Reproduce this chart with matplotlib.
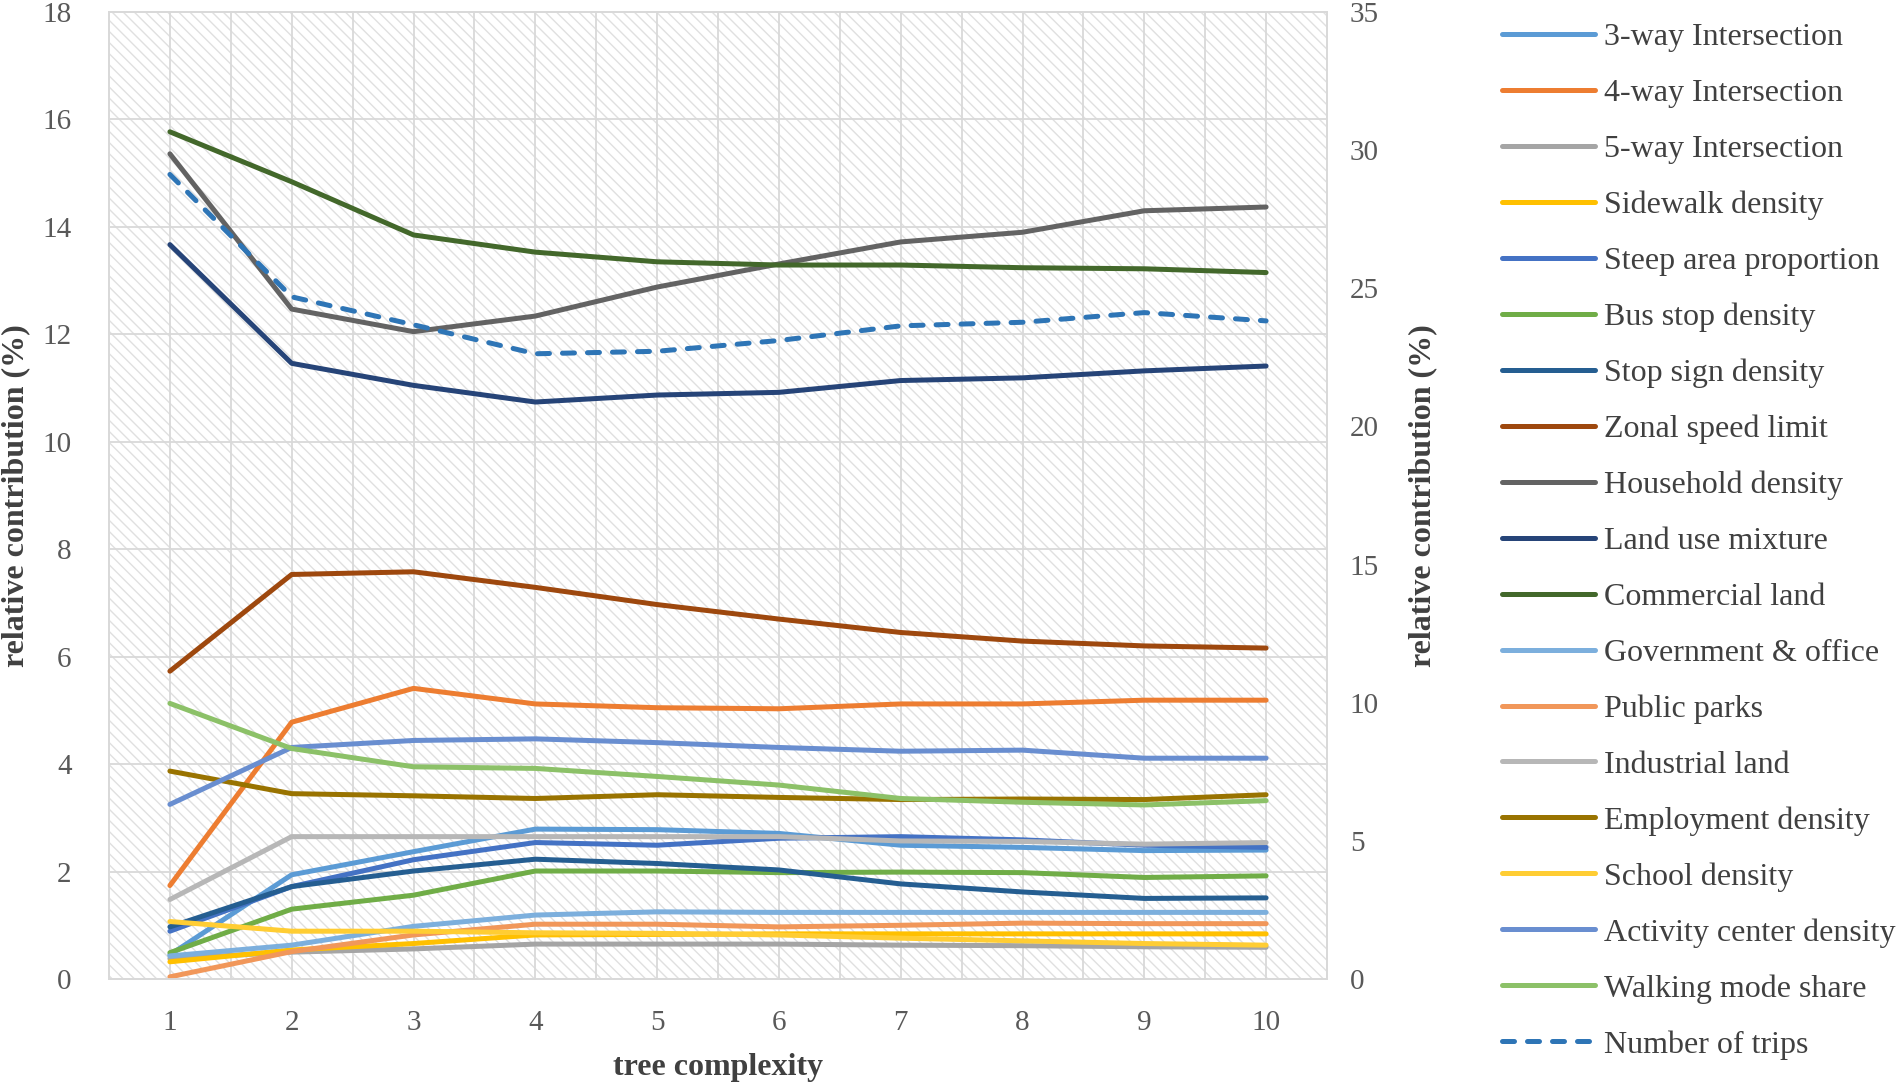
import matplotlib
matplotlib.use("Agg")
import matplotlib.pyplot as plt
from matplotlib.patches import Rectangle
from matplotlib.ticker import MultipleLocator

plt.rcParams['font.family'] = ['Liberation Serif', 'DejaVu Serif']
plt.rcParams['hatch.linewidth'] = 1.0

tree_complexity = [1, 2, 3, 4, 5, 6, 7, 8, 9, 10]

three_way = [0.45, 1.94, 2.37, 2.79, 2.78, 2.71, 2.49, 2.45, 2.39, 2.40]
four_way = [1.74, 4.78, 5.41, 5.12, 5.05, 5.03, 5.12, 5.12, 5.19, 5.19]
five_way = [0.38, 0.50, 0.56, 0.65, 0.65, 0.65, 0.63, 0.62, 0.60, 0.59]
sidewalk = [0.32, 0.54, 0.66, 0.82, 0.83, 0.84, 0.84, 0.84, 0.84, 0.84]
steep_area = [0.89, 1.72, 2.22, 2.54, 2.49, 2.62, 2.65, 2.59, 2.49, 2.45]
bus_stop = [0.49, 1.30, 1.56, 2.01, 2.01, 1.98, 1.99, 1.98, 1.89, 1.92]
stop_sign = [0.97, 1.72, 2.01, 2.23, 2.15, 2.03, 1.77, 1.62, 1.50, 1.51]
zonal_speed = [5.73, 7.53, 7.58, 7.29, 6.97, 6.70, 6.45, 6.29, 6.20, 6.16]
household = [15.36, 12.47, 12.05, 12.34, 12.88, 13.31, 13.72, 13.90, 14.30, 14.37]
land_use = [13.67, 11.46, 11.05, 10.74, 10.87, 10.92, 11.14, 11.19, 11.32, 11.41]
commercial = [15.77, 14.84, 13.85, 13.53, 13.35, 13.29, 13.29, 13.24, 13.22, 13.15]
government = [0.43, 0.63, 0.98, 1.19, 1.25, 1.24, 1.24, 1.24, 1.24, 1.24]
public_parks = [0.04, 0.51, 0.82, 1.02, 1.02, 0.97, 1.00, 1.04, 1.03, 1.03]
industrial = [1.48, 2.65, 2.65, 2.65, 2.65, 2.65, 2.57, 2.56, 2.51, 2.54]
employment = [3.87, 3.45, 3.41, 3.36, 3.43, 3.38, 3.34, 3.35, 3.34, 3.43]
school = [1.07, 0.89, 0.89, 0.86, 0.85, 0.82, 0.76, 0.71, 0.66, 0.63]
activity_center = [3.25, 4.31, 4.44, 4.47, 4.40, 4.31, 4.24, 4.26, 4.11, 4.11]
walking = [5.13, 4.29, 3.95, 3.92, 3.77, 3.61, 3.36, 3.29, 3.24, 3.32]
number_of_trips = [29.12, 24.69, 23.68, 22.63, 22.72, 23.11, 23.64, 23.77, 24.12, 23.82]  # secondary axis

series = [
    ("3-way Intersection", three_way, '#5B9BD5'),
    ("4-way Intersection", four_way, '#ED7D31'),
    ("5-way Intersection", five_way, '#A5A5A5'),
    ("Sidewalk density", sidewalk, '#FFC000'),
    ("Steep area proportion", steep_area, '#4472C4'),
    ("Bus stop density", bus_stop, '#70AD47'),
    ("Stop sign density", stop_sign, '#255E91'),
    ("Zonal speed limit", zonal_speed, '#9E480E'),
    ("Household density", household, '#636363'),
    ("Land use mixture", land_use, '#264478'),
    ("Commercial land", commercial, '#43682B'),
    ("Government & office", government, '#7CAFDD'),
    ("Public parks", public_parks, '#F1975A'),
    ("Industrial land", industrial, '#B7B7B7'),
    ("Employment density", employment, '#997300'),
    ("School density", school, '#FFCD33'),
    ("Activity center density", activity_center, '#698ED0'),
    ("Walking mode share", walking, '#8CC168'),
]
trips_label = "Number of trips"
trips_color = '#2E75B6'

W, H = 1900, 1083
fig = plt.figure(figsize=(W / 100, H / 100), dpi=100)
L, R, T, B = 109, 1327, 12, 979
ax = fig.add_axes([L / W, 1 - B / H, (R - L) / W, (B - T) / H])

grid_c = '#d9d9d9'
ax.add_patch(Rectangle((0, 0), 1, 1, transform=ax.transAxes, facecolor='white',
                       edgecolor='#e0e0e0', hatch='\\\\\\', lw=0, zorder=-2))
ax.set_axisbelow(True)

LW = 3.6
handles = []
for name, vals, col in series:
    ln, = ax.plot(tree_complexity, vals, color=col, lw=LW, solid_capstyle='round',
                  solid_joinstyle='round', label=name, zorder=3)
    handles.append(ln)

ax.set_xlim(0.5, 10.5)
ax.set_ylim(0, 18)
ax.yaxis.set_major_locator(MultipleLocator(2))
ax.set_xticks(tree_complexity)
ax.set_xticks([i + 0.5 for i in range(0, 11)], minor=True)
ax.grid(True, which='major', axis='both', color=grid_c, lw=1.3, zorder=-1)
ax.grid(True, which='minor', axis='x', color=grid_c, lw=1.3, zorder=-1)

ax2 = ax.twinx()
ax2.set_ylim(0, 35)
ax2.yaxis.set_major_locator(MultipleLocator(5))
tl, = ax2.plot(tree_complexity, number_of_trips, color=trips_color, lw=LW,
               linestyle=(0, (2.4, 2.6)), dash_capstyle='round', label=trips_label, zorder=3)
handles.append(tl)

tick_c = '#595959'
for a in (ax, ax2):
    a.tick_params(axis='both', which='both', length=0, labelsize=21, labelcolor=tick_c)
    for s in a.spines.values():
        s.set_color(grid_c)
        s.set_linewidth(1.3)
ax.tick_params(axis='x', pad=22.5)
ax.tick_params(axis='y', pad=27)
ax2.tick_params(axis='y', pad=16.5)

lab_c = '#404040'
ax.set_ylabel("relative contribution (%)", fontsize=23, fontweight='bold', color=lab_c, labelpad=9)
ax2.set_ylabel("relative contribution (%)", fontsize=23, fontweight='bold', color=lab_c, labelpad=21)
ax.set_xlabel("tree complexity", fontsize=23, fontweight='bold', color=lab_c, labelpad=12)

leg = fig.legend(handles=handles, loc='upper left', bbox_to_anchor=(1502 / W, 1 - 23 / H),
                 bbox_transform=fig.transFigure, frameon=False, fontsize=23,
                 handlelength=2.9, handletextpad=0.3, labelspacing=0.83,
                 borderpad=0, borderaxespad=0)
for t in leg.get_texts():
    t.set_color(lab_c)

fig.savefig("out.png", dpi=100)
